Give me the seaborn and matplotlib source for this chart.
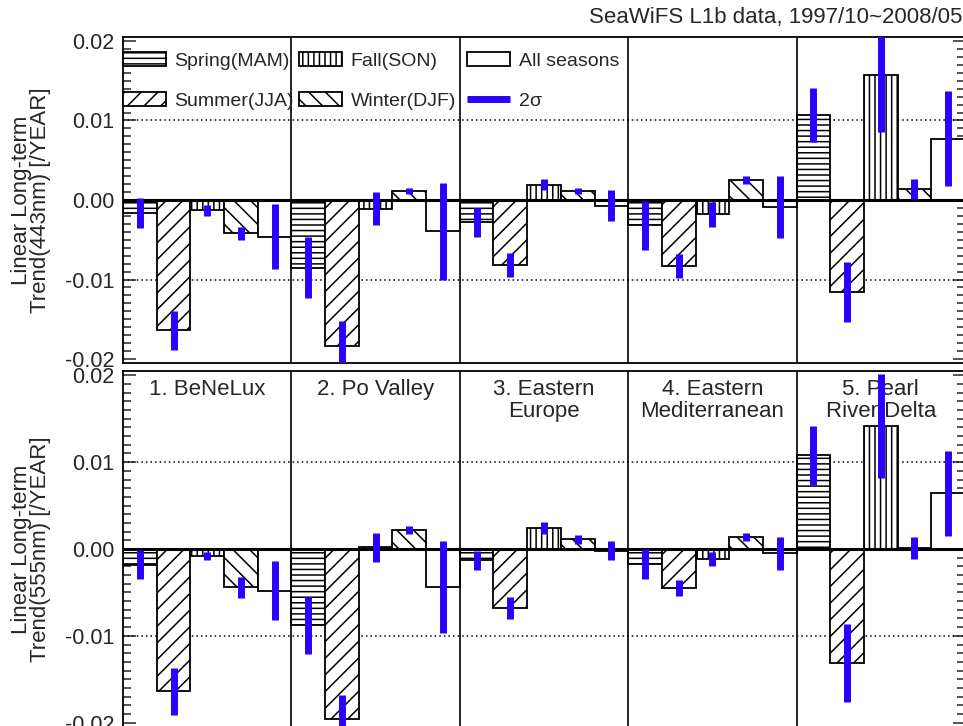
import numpy as np
import pandas as pd
import matplotlib
matplotlib.use("Agg")
import matplotlib.pyplot as plt
import matplotlib.patches as mpatches
import matplotlib.lines as mlines
import matplotlib.transforms as mtransforms
import seaborn as sns

# ---------------- data ----------------
regions = ["1. BeNeLux", "2. Po Valley", "3. Eastern\nEurope",
           "4. Eastern\nMediterranean", "5. Pearl\nRiver Delta"]
seasons = ["Spring(MAM)", "Summer(JJA)", "Fall(SON)", "Winter(DJF)", "All seasons"]

# trend values per season (one list per season, ordered by region)
spring_443 = [-0.0016, -0.0085, -0.0028, -0.0032, 0.0107]
summer_443 = [-0.0164, -0.0183, -0.0082, -0.0083, -0.0116]
fall_443   = [-0.0013, -0.0011, 0.0019, -0.0018, 0.0157]
winter_443 = [-0.0042, 0.0011, 0.0011, 0.0025, 0.0014]
all_443    = [-0.0046, -0.0039, -0.0007, -0.0009, 0.0077]

spring_443_sig = [0.0019, 0.0038, 0.0018, 0.0031, 0.0034]
summer_443_sig = [0.0025, 0.0031, 0.0015, 0.0015, 0.0038]
fall_443_sig   = [0.0007, 0.0021, 0.0007, 0.0016, 0.0071]
winter_443_sig = [0.0008, 0.0004, 0.0004, 0.0005, 0.0013]
all_443_sig    = [0.0041, 0.0061, 0.0020, 0.0039, 0.0060]

spring_555 = [-0.0018, -0.0088, -0.0013, -0.0017, 0.0108]
summer_555 = [-0.0164, -0.0196, -0.0068, -0.0045, -0.0131]
fall_555   = [-0.0008, 0.0002, 0.0024, -0.0012, 0.0142]
winter_555 = [-0.0044, 0.0022, 0.0011, 0.0014, 0.0001]
all_555    = [-0.0048, -0.0044, -0.0002, -0.0005, 0.0064]

spring_555_sig = [0.0017, 0.0033, 0.0011, 0.0017, 0.0034]
summer_555_sig = [0.0027, 0.0028, 0.0013, 0.0009, 0.0045]
fall_555_sig   = [0.0005, 0.0017, 0.0007, 0.0008, 0.0060]
winter_555_sig = [0.0012, 0.0005, 0.0005, 0.0005, 0.0013]
all_555_sig    = [0.0034, 0.0053, 0.0011, 0.0019, 0.0049]

yticks = [-0.02, -0.01, 0.00, 0.01, 0.02]
ytick_labels = ["-0.02", "-0.01", "0.00", "0.01", "0.02"]
title = "SeaWiFS L1b data, 1997/10~2008/05"
ylabels = ["Linear Long-term\nTrend(443nm) [/YEAR]",
           "Linear Long-term\nTrend(555nm) [/YEAR]"]

hatches = ["---", "//", "|||", "\\\\", ""]
blue = "#2a00ff"


def build(vals, sigs):
    rows = []
    for s, v, e in zip(seasons, vals, sigs):
        for r, vv, ee in zip(regions, v, e):
            rows.append({"region": r, "season": s, "value": vv, "sigma": ee})
    return pd.DataFrame(rows)


df443 = build([spring_443, summer_443, fall_443, winter_443, all_443],
              [spring_443_sig, summer_443_sig, fall_443_sig, winter_443_sig, all_443_sig])
df555 = build([spring_555, summer_555, fall_555, winter_555, all_555],
              [spring_555_sig, summer_555_sig, fall_555_sig, winter_555_sig, all_555_sig])

# ---------------- style ----------------
sns.set_style("white")
plt.rcParams["font.family"] = ["Liberation Sans", "DejaVu Sans"]
plt.rcParams["axes.unicode_minus"] = False
plt.rcParams["hatch.linewidth"] = 1.1
plt.rcParams["hatch.color"] = "black"

W, H = 963, 726
fig = plt.figure(figsize=(W / 100, H / 100), dpi=100)

left_px, right_px = 123, 965
panels = [(37, 363), (371, 727)]
axes = []
for (top_px, bot_px) in panels:
    ax = fig.add_axes([left_px / W, 1 - bot_px / H,
                       (right_px - left_px) / W, (bot_px - top_px) / H])
    axes.append(ax)

YL = 0.0205
for k, (ax, df) in enumerate(zip(axes, [df443, df555])):
    sns.barplot(data=df, x="region", y="value", hue="season",
                order=regions, hue_order=seasons,
                palette=["white"] * 5, saturation=1, width=1.0, gap=0,
                edgecolor="black", linewidth=1.3, errorbar=None,
                legend=False, ax=ax, zorder=2)
    for i, cont in enumerate(ax.containers):
        sub = df[df["season"] == seasons[i]].set_index("region").loc[regions]
        xs = []
        for p in cont.patches:
            p.set_hatch(hatches[i])
            xs.append(p.get_x() + p.get_width() / 2)
        v = sub["value"].to_numpy()
        s = sub["sigma"].to_numpy()
        ax.vlines(xs, v - s, v + s, colors=blue, linewidth=5, zorder=6,
                  capstyle="butt")
    ax.set_xlim(-0.5, len(regions) - 0.5)
    ax.set_ylim(-YL, YL)
    ax.axhline(0, color="black", lw=2.2, zorder=5)
    for g in (-0.01, 0.01):
        ax.axhline(g, color="black", lw=1.1, ls=(0, (1, 2)), zorder=1)
    for b in np.arange(0.5, len(regions) - 0.5, 1.0):
        ax.axvline(b, color="black", lw=1.2, zorder=4)
    ax.set_xlabel("")
    ax.set_ylabel("")
    ax.set_xticks([])
    ax.set_yticks(yticks)
    ax.set_yticklabels(ytick_labels)
    ax.set_yticks(np.arange(-0.02, 0.02001, 0.001), minor=True)
    ax.tick_params(axis="y", which="both", direction="in", left=True,
                   right=True, labelsize=15.5, width=1.1, pad=6)
    ax.tick_params(axis="y", which="major", length=9)
    ax.tick_params(axis="y", which="minor", length=5.5)
    for sp in ax.spines.values():
        sp.set_linewidth(1.3)
        sp.set_color("black")
    yc = 1 - (panels[k][0] + panels[k][1]) / 2 / H
    fig.text(31 / W, yc, ylabels[k], rotation=90, ha="center", va="center",
             fontsize=16, linespacing=0.9, multialignment="center")

# region labels on the bottom panel
ax2 = axes[1]
trans = mtransforms.blended_transform_factory(ax2.transData, ax2.transAxes)
for i, r in enumerate(regions):
    ax2.text(i, 0.978, r, transform=trans, ha="center", va="top",
             fontsize=16, linespacing=1.05, zorder=0.5)

# legends (three columns aligned to regions)
ax1 = axes[0]
handles = [mpatches.Patch(facecolor="white", edgecolor="black", hatch=h,
                          linewidth=1.3) for h in hatches]
sig_handle = mlines.Line2D([], [], color=blue, lw=5, solid_capstyle="butt")
cols = [([handles[0], handles[1]], [seasons[0], seasons[1]], 0.0),
        ([handles[2], handles[3]], [seasons[2], seasons[3]], 176 / 842),
        ([handles[4], sig_handle], [seasons[4], "2σ"], 344 / 842)]
for n, (hs, ls, xa) in enumerate(cols):
    leg = ax1.legend(hs, ls, loc="upper left", bbox_to_anchor=(xa, 0.955),
                     bbox_transform=ax1.transAxes, frameon=False,
                     fontsize=14, handlelength=2.2, handleheight=0.75,
                     handletextpad=0.45, labelspacing=1.15, borderpad=0,
                     borderaxespad=0)
    if n < len(cols) - 1:
        ax1.add_artist(leg)

fig.text(962 / W, 1 - 17 / H, title, ha="right", va="center", fontsize=16)

fig.savefig("out.png", dpi=100)
